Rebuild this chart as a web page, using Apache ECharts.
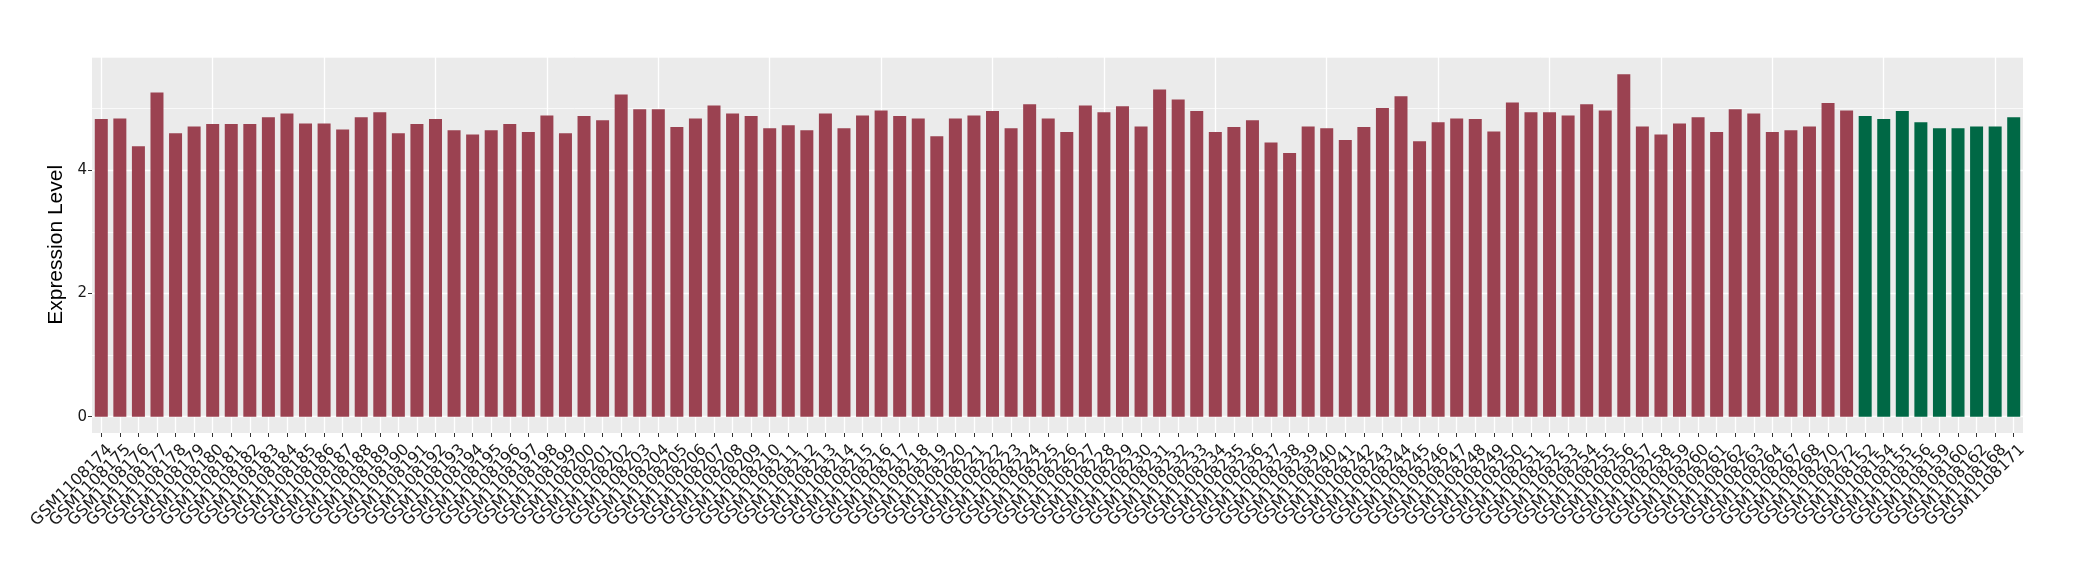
<!DOCTYPE html>
<html>
<head>
<meta charset="utf-8">
<script src="https://cdn.jsdelivr.net/npm/echarts@6/dist/echarts.min.js"></script>
<style>
html,body{margin:0;padding:0;background:#fff;}
#chart{width:2080px;height:580px;}
</style>
</head>
<body>
<div id="chart"></div>
<script>
const categories = [
 'GSM1108174','GSM1108175','GSM1108176','GSM1108177','GSM1108178','GSM1108179','GSM1108180','GSM1108181','GSM1108182','GSM1108183',
 'GSM1108184','GSM1108185','GSM1108186','GSM1108187','GSM1108188','GSM1108189','GSM1108190','GSM1108191','GSM1108192','GSM1108193',
 'GSM1108194','GSM1108195','GSM1108196','GSM1108197','GSM1108198','GSM1108199','GSM1108200','GSM1108201','GSM1108202','GSM1108203',
 'GSM1108204','GSM1108205','GSM1108206','GSM1108207','GSM1108208','GSM1108209','GSM1108210','GSM1108211','GSM1108212','GSM1108213',
 'GSM1108214','GSM1108215','GSM1108216','GSM1108217','GSM1108218','GSM1108219','GSM1108220','GSM1108221','GSM1108222','GSM1108223',
 'GSM1108224','GSM1108225','GSM1108226','GSM1108227','GSM1108228','GSM1108229','GSM1108230','GSM1108231','GSM1108232','GSM1108233',
 'GSM1108234','GSM1108235','GSM1108236','GSM1108237','GSM1108238','GSM1108239','GSM1108240','GSM1108241','GSM1108242','GSM1108243',
 'GSM1108244','GSM1108245','GSM1108246','GSM1108247','GSM1108248','GSM1108249','GSM1108250','GSM1108251','GSM1108252','GSM1108253',
 'GSM1108254','GSM1108255','GSM1108256','GSM1108257','GSM1108258','GSM1108259','GSM1108260','GSM1108261','GSM1108262','GSM1108263',
 'GSM1108264','GSM1108267','GSM1108268','GSM1108270','GSM1108272',
 'GSM1108152','GSM1108154','GSM1108155','GSM1108156','GSM1108159','GSM1108160','GSM1108162','GSM1108168','GSM1108171'
];
const values = [
 4.83,4.84,4.39,5.26,4.60,4.71,4.75,4.75,4.75,4.86,
 4.92,4.76,4.76,4.66,4.86,4.94,4.60,4.75,4.83,4.65,
 4.58,4.65,4.75,4.62,4.89,4.60,4.88,4.81,5.23,4.99,
 4.99,4.70,4.84,5.05,4.92,4.88,4.68,4.73,4.65,4.92,
 4.68,4.89,4.97,4.88,4.84,4.55,4.84,4.89,4.96,4.68,
 5.07,4.84,4.62,5.05,4.94,5.04,4.71,5.31,5.15,4.96,
 4.62,4.70,4.81,4.45,4.28,4.71,4.68,4.49,4.70,5.01,
 5.20,4.47,4.78,4.84,4.83,4.63,5.10,4.94,4.94,4.89,
 5.07,4.97,5.56,4.71,4.58,4.76,4.86,4.62,4.99,4.92,
 4.62,4.65,4.71,5.09,4.97,
 4.88,4.83,4.96,4.78,4.68,4.68,4.71,4.71,4.86
];
const groupNames = ['Tumor','Normal'];
const groupCounts = [95, 9];
const groupColors = {Tumor:'#9B4251', Normal:'#006845'};
const yTicks = [0, 2, 4];

const groups = [];
groupNames.forEach((g, i) => { for (let k = 0; k < groupCounts[i]; k++) groups.push(g); });

const FONT = '"Liberation Sans", Arial, sans-serif';
const TICKFONT = '"DejaVu Sans", sans-serif';
const PANEL = '#EBEBEB';
const YMAX = 5.838; // ggplot 5% expansion above data max

const chart = echarts.init(document.getElementById('chart'), null, {renderer:'canvas'});
chart.setOption({
  animation: false,
  backgroundColor: '#ffffff',
  grid: [
    {left: 92, right: 57, top: 57, height: 359.7, show: true, backgroundColor: PANEL, borderWidth: 0},
    {left: 92, right: 57, top: 416.7, height: 16.3, show: true, backgroundColor: PANEL, borderWidth: 0}
  ],
  xAxis: [
    {type:'category', gridIndex:0, data: categories, axisLine:{show:false}, axisTick:{show:false}, axisLabel:{show:false},
     splitLine:{show:true, alignWithLabel:true, lineStyle:{color:'#ffffff', width:1.3}}},
    {type:'category', gridIndex:1, data: categories, axisLine:{show:false},
     axisTick:{show:true, alignWithLabel:true, length:4, lineStyle:{color:'#333333', width:1}},
     axisLabel:{show:true, interval:0, rotate:45, margin:6, align:'right', verticalAlign:'top', padding:[4,0,0,0],
       fontFamily:TICKFONT, fontSize:16, color:'#1a1a1a'},
     splitLine:{show:true, alignWithLabel:true, lineStyle:{color:'#ffffff', width:1.3}}}
  ],
  yAxis: [
    {type:'value', gridIndex:0, min:0, max:YMAX, interval:2,
     axisLine:{show:false}, axisTick:{show:true, length:4, lineStyle:{color:'#333333'}},
     axisLabel:{show:true, fontFamily:TICKFONT, fontSize:15, color:'#1a1a1a', margin:5, showMaxLabel:false,
       formatter: v => yTicks.indexOf(v) >= 0 ? String(v) : ''},
     splitLine:{show:true, showMaxLine:false, lineStyle:{color:'#ffffff', width:1.4}},
     name:'Expression Level', nameLocation:'middle', nameGap:19, nameRotate:90,
     nameTextStyle:{fontFamily:FONT, fontSize:21, color:'#000000', padding:[0,16,0,0]}},
    {type:'value', gridIndex:0, min:0, max:YMAX, interval:1, position:'left',
     axisLine:{show:false}, axisTick:{show:false}, axisLabel:{show:false},
     splitLine:{show:true, lineStyle:{color:'#ffffff', width:0.7}}},
    {type:'value', gridIndex:1, min:0, max:1, show:false, splitLine:{show:false}}
  ],
  series: [
    {type:'bar', xAxisIndex:0, yAxisIndex:0, data: values, barCategoryGap:'30%', z:5,
     itemStyle:{color: p => groupColors[groups[p.dataIndex]]}}
  ]
});
</script>
</body>
</html>
